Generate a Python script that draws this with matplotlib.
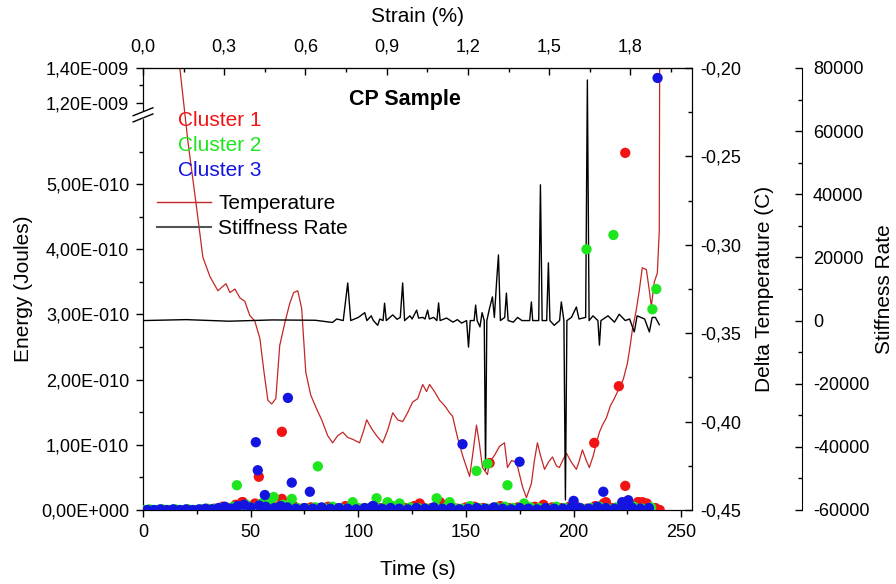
import numpy as np
import matplotlib
matplotlib.use("Agg")
import matplotlib.pyplot as plt
from matplotlib.ticker import FixedLocator, FuncFormatter, MultipleLocator
from matplotlib.lines import Line2D

plt.rcParams['font.family'] = ['Liberation Sans', 'DejaVu Sans']
plt.rcParams['axes.unicode_minus'] = False

# ---- data (energies in units of 1e-10 J) ----
temp_t = [13, 15.3, 17.2, 20.9, 25.0, 27.8, 31.1, 34.8, 36.6, 38.5,
          40.4, 42.7, 45.0, 47.3, 49.6, 51.9, 54.3, 56.1, 58.0, 59.8,
          61.7, 63.5, 65.9, 68.2, 70.0, 71.9, 73.7, 75.6, 77.9, 80.7,
          83.0, 85.8, 88.1, 90.4, 92.8, 95.1, 97.4, 100.6, 102.5, 103.9,
          106.2, 108.5, 111.3, 113.6, 116.0, 118.3, 120.6, 122.9, 125.2, 127.6,
          129.9, 131.7, 133.1, 135.4, 137.8, 140.1, 142.4, 143.8, 146.1, 148.4,
          150.3, 151.7, 153.1, 154.9, 156.3, 157.7, 160.0, 160.9, 163.3, 165.6,
          167.9, 169.3, 171.2, 173.5, 174.9, 176.3, 178.1, 180.4, 181.8, 183.2,
          184.6, 186.5, 188.3, 190.2, 192.0, 193.4, 195.3, 196.7, 199.0, 201.3,
          202.7, 204.1, 205.9, 207.3, 209.2, 210.6, 212.0, 213.4, 215.2, 217.1,
          218.9, 221.2, 223.1, 225.0, 226.3, 227.3, 229.1, 230.5, 231.9, 233.8,
          235.2, 236.1, 237.5, 238.9, 239.8, 240.0]
temp_c = [-0.170, -0.196, -0.201, -0.242, -0.280, -0.307, -0.318, -0.326, -0.324, -0.322,
          -0.327, -0.325, -0.330, -0.332, -0.340, -0.343, -0.353, -0.371, -0.388, -0.390,
          -0.387, -0.357, -0.344, -0.333, -0.327, -0.326, -0.336, -0.372, -0.385, -0.393,
          -0.399, -0.408, -0.412, -0.408, -0.406, -0.409, -0.410, -0.412, -0.405, -0.399,
          -0.404, -0.408, -0.412, -0.405, -0.395, -0.399, -0.400, -0.395, -0.389, -0.387,
          -0.379, -0.383, -0.379, -0.383, -0.388, -0.391, -0.395, -0.397, -0.409, -0.419,
          -0.426, -0.431, -0.419, -0.402, -0.413, -0.426, -0.430, -0.423, -0.419, -0.414,
          -0.412, -0.426, -0.422, -0.423, -0.430, -0.437, -0.443, -0.435, -0.422, -0.412,
          -0.419, -0.427, -0.423, -0.420, -0.425, -0.426, -0.421, -0.418, -0.423, -0.427,
          -0.422, -0.416, -0.422, -0.426, -0.419, -0.412, -0.406, -0.402, -0.398, -0.391,
          -0.387, -0.381, -0.376, -0.367, -0.357, -0.348, -0.337, -0.326, -0.313, -0.314,
          -0.326, -0.335, -0.321, -0.316, -0.292, -0.190]

stiff_t = [0, 20, 40, 60, 80, 88, 90, 93, 95.1, 96.5,
           100, 103, 104, 106, 107, 109, 110, 111.5, 112.2, 113,
           116, 118, 119.5, 120.6, 121.5, 124, 125, 127.1, 128, 130,
           131, 132.2, 133, 135, 136.5, 137.3, 138, 141, 144, 146,
           148, 150.3, 151.2, 152, 153.8, 154.5, 155.2, 156.5, 157.5, 158.5,
           159.1, 159.7, 161, 162.3, 163.2, 164.2, 165.1, 166, 168, 168.8,
           169.6, 172, 174, 176, 179.6, 180.4, 181, 183.8, 184.6, 185.4,
           187.5, 188.3, 189, 191, 193.5, 194.3, 195.5, 196.2, 196.9, 199,
           201.3, 202.5, 205.6, 206.4, 207.2, 209, 211.3, 212, 212.7, 216,
           219, 221.2, 224, 226, 228.2, 229.5, 233, 235.2, 236.5, 238,
           239.8]
stiff_v = [0, 300, -200, 200, 100, -600, 500, 0, 11900, 0,
           1000, 2500, 0, 1500, 0, -1500, 500, 0, 5500, 0,
           1800, 400, 1000, 11900, 0, 1500, 500, 3300, 800, 1000,
           500, 3300, 500, 1000, 0, 5600, 0, 800, -500, 300,
           -800, 0, -8400, 0, 0, 4900, 0, -2000, 2500, 0,
           -47300, 0, 4000, 7500, 1000, 11900, 20800, 0, 1000, 8700,
           0, -500, 1000, 0, 0, 5900, 0, 0, 43000, 0,
           0, 18300, 0, -1500, 0, 5900, 0, -56800, 0, 1000,
           4300, 500, 1000, 76200, 0, 1500, 0, -7800, 0, 1500,
           -500, 2000, 0, 500, -3600, 1500, 500, -3600, 1000, 1000,
           -1300]

c1_t = [33, 37, 40, 43, 46, 49, 52, 56, 59, 62,
        66, 70, 74, 78, 82, 86, 90, 94, 98, 102,
        106, 110, 114, 118, 122, 126, 130, 134, 138, 142,
        146, 150, 154, 158, 162, 166, 170, 174, 178, 182,
        186, 190, 194, 198, 202, 206, 210, 214, 218, 222,
        226, 230, 234, 238,
        46.4, 53.8, 64.5, 64.5, 128.5, 161, 209.6, 215, 221, 224,
        224, 230, 232, 240]
c1_e = [0.02, 0.05, 0.03, 0.08, 0.12, 0.06, 0.10, 0.04, 0.08, 0.05,
        0.03, 0.06, 0.02, 0.04, 0.03, 0.05, 0.02, 0.06, 0.03, 0.02,
        0.04, 0.03, 0.05, 0.02, 0.03, 0.06, 0.04, 0.03, 0.12, 0.03,
        0.02, 0.04, 0.05, 0.03, 0.02, 0.06, 0.03, 0.04, 0.02, 0.05,
        0.08, 0.04, 0.03, 0.05, 0.04, 0.02, 0.06, 0.10, 0.03, 0.05,
        0.04, 0.12, 0.10, 0.03,
        0.12, 0.51, 1.20, 0.17, 0.10, 0.72, 1.03, 0.12, 1.90, 5.48,
        0.37, 0.12, 0.12, 0.00]

c2_t = [1, 3, 6, 9, 12, 15, 18, 21, 24, 27,
        30, 33, 36, 39, 42, 45, 48, 51, 55, 58,
        61, 65, 68, 72, 76, 80, 84, 88, 92, 96,
        100, 104, 108, 112, 116, 120, 124, 128, 132, 136,
        140, 144, 148, 152, 156, 160, 164, 168, 172, 176,
        180, 184, 188, 192, 196, 200, 204, 208, 212, 216,
        220, 224, 228, 232, 236,
        43.6, 59, 60.7, 69.1, 81.2, 97.4, 108.5, 113.6, 119.2, 136.4,
        142.4, 154.9, 160, 169.3, 177, 206, 218.5, 236.6, 238.4]
c2_e = [0.00, 0.01, 0.00, 0.01, 0.00, 0.01, 0.00, 0.01, 0.00, 0.01,
        0.02, 0.01, 0.03, 0.02, 0.05, 0.04, 0.08, 0.03, 0.10, 0.06,
        0.04, 0.08, 0.05, 0.03, 0.02, 0.04, 0.03, 0.05, 0.02, 0.04,
        0.03, 0.02, 0.05, 0.03, 0.06, 0.02, 0.04, 0.03, 0.02, 0.05,
        0.03, 0.04, 0.02, 0.06, 0.03, 0.02, 0.04, 0.05, 0.03, 0.02,
        0.04, 0.03, 0.02, 0.05, 0.03, 0.04, 0.02, 0.03, 0.05, 0.02,
        0.04, 0.03, 0.05, 0.02, 0.04,
        0.38, 0.17, 0.20, 0.17, 0.67, 0.12, 0.18, 0.12, 0.10, 0.18,
        0.12, 0.60, 0.71, 0.38, 0.10, 4.00, 4.22, 3.08, 3.39]

c3_t = [2, 5, 8, 11, 14, 17, 20, 23, 26, 29,
        32, 35, 38, 41, 44, 47, 50, 54, 57, 61,
        64, 67, 71, 75, 79, 83, 87, 91, 95, 99,
        103, 107, 111, 115, 119, 123, 127, 131, 135, 139,
        143, 147, 151, 155, 159, 163, 167, 171, 175, 179,
        183, 187, 191, 195, 199, 203, 207, 211, 215, 219,
        223, 227, 231, 235,
        52.4, 53.3, 56.6, 67.3, 69.1, 77.5, 106.7, 148.4, 174.9, 200,
        213.8, 222.6, 225.4, 239]
c3_e = [0.00, 0.00, 0.01, 0.00, 0.01, 0.00, 0.01, 0.00, 0.01, 0.02,
        0.01, 0.03, 0.05, 0.02, 0.06, 0.08, 0.04, 0.07, 0.05, 0.03,
        0.06, 0.04, 0.02, 0.03, 0.02, 0.04, 0.02, 0.03, 0.02, 0.01,
        0.03, 0.06, 0.02, 0.03, 0.02, 0.01, 0.03, 0.02, 0.04, 0.02,
        0.03, 0.01, 0.02, 0.03, 0.02, 0.04, 0.02, 0.01, 0.03, 0.02,
        0.01, 0.03, 0.02, 0.02, 0.04, 0.03, 0.02, 0.05, 0.03, 0.02,
        0.06, 0.04, 0.02, 0.03,
        1.04, 0.61, 0.23, 1.72, 0.42, 0.28, 0.06, 1.01, 0.74, 0.14,
        0.28, 0.12, 0.15, 13.43]

energy_major = [0, 1e-10, 2e-10, 3e-10, 4e-10, 5e-10, 1.2e-9, 1.4e-9]
energy_minor = [0.5e-10, 1.5e-10, 2.5e-10, 3.5e-10, 4.5e-10, 5.5e-10, 1.3e-9]

RED, GREEN, BLUE = '#F01414', '#1EE61E', '#1414E1'
TEMP_COLOR = '#C42626'

# broken energy axis: linear low part, compressed high part
LO, HI = 6.06e-10, 1.131e-9
A, B = 65.2e10, 17.5e10


def fwd(v):
    v = np.asarray(v, float)
    return np.where(v <= LO, v * A, np.where(v >= HI, LO * A + (v - HI) * B, LO * A))


def inv(y):
    y = np.asarray(y, float)
    return np.where(y <= LO * A, y / A, HI + (y - LO * A) / B)


def energy_fmt(v, pos):
    if v == 0:
        return "0,00E+000"
    exp = int(np.floor(np.log10(abs(v)) + 1e-9))
    man = v / 10 ** exp
    return f"{man:.2f}".replace('.', ',') + f"E{exp:+04d}"


def comma_fmt(decimals):
    return FuncFormatter(lambda v, p: f"{v:.{decimals}f}".replace('.', ','))


TICK_FS = 13
LABEL_FS = 15

fig = plt.figure(figsize=(8.96, 5.84), dpi=100)
ax = fig.add_axes([143 / 896, 74 / 584, 549 / 896, 442 / 584])
axT = ax.twinx()
axS = ax.twinx()
ax.set_zorder(axS.get_zorder() + 2)
ax.patch.set_visible(False)

# temperature + stiffness lines
axT.plot(temp_t, temp_c, color=TEMP_COLOR, lw=0.9)
axT.set_ylim(-0.45, -0.20)
axS.plot(stiff_t, stiff_v, color='black', lw=1.0)
axS.set_ylim(-60000, 80000)

# clusters
for tt, ee, col in [(c1_t, c1_e, RED), (c2_t, c2_e, GREEN), (c3_t, c3_e, BLUE)]:
    ax.scatter(tt, np.array(ee) * 1e-10, s=55, color=col, edgecolors='none', zorder=3)

ax.set_xlim(0, 255)
ax.set_yscale('function', functions=(fwd, inv))
ax.set_ylim(0, 1.4e-9)
ax.yaxis.set_major_locator(FixedLocator(energy_major))
ax.yaxis.set_minor_locator(FixedLocator(energy_minor))
ax.yaxis.set_major_formatter(FuncFormatter(energy_fmt))
ax.xaxis.set_major_locator(MultipleLocator(50))
ax.xaxis.set_minor_locator(MultipleLocator(25))
ax.tick_params(axis='both', which='major', direction='out', length=5, width=1,
               labelsize=TICK_FS, pad=5)
ax.tick_params(axis='both', which='minor', direction='out', length=3, width=1)
ax.set_xlabel('Time (s)', fontsize=LABEL_FS, labelpad=14)
ax.set_ylabel('Energy (Joules)', fontsize=LABEL_FS, labelpad=6)

# top strain axis
K = 0.00795
top = ax.secondary_xaxis('top', functions=(lambda t: t * K, lambda s: s / K))
top.xaxis.set_major_locator(MultipleLocator(0.3))
top.xaxis.set_minor_locator(MultipleLocator(0.15))
top.xaxis.set_major_formatter(comma_fmt(1))
top.tick_params(which='major', direction='in', length=5, width=1, labelsize=TICK_FS, pad=9)
top.tick_params(which='minor', direction='in', length=3, width=1)
top.set_xlabel('Strain (%)', fontsize=LABEL_FS, labelpad=12)

# temperature axis
axT.yaxis.set_major_locator(MultipleLocator(0.05))
axT.yaxis.set_minor_locator(MultipleLocator(0.025))
axT.yaxis.set_major_formatter(comma_fmt(2))
axT.tick_params(which='major', direction='in', length=5, width=1, labelsize=TICK_FS, pad=6)
axT.tick_params(which='minor', direction='in', length=3, width=1)
axT.set_ylabel('Delta Temperature (C)', fontsize=LABEL_FS, labelpad=10)

# stiffness axis
axS.spines['right'].set_position(('axes', 1.2))
for s in ['top', 'bottom', 'left']:
    axS.spines[s].set_visible(False)
axS.yaxis.set_major_locator(MultipleLocator(20000))
axS.yaxis.set_minor_locator(MultipleLocator(10000))
axS.tick_params(which='major', direction='in', length=5, width=1, labelsize=TICK_FS, pad=8)
axS.tick_params(which='minor', direction='in', length=3, width=1)
axS.set_ylabel('Stiffness Rate', fontsize=LABEL_FS)
axS.yaxis.set_label_coords(1.333, 0.5)

# axis break marks on left spine
br_lo, br_hi = 0.887, 0.901
ax.add_patch(plt.Rectangle((-0.004, br_lo), 0.008, br_hi - br_lo, transform=ax.transAxes,
                           color='white', clip_on=False, zorder=5))
for yb in (br_lo, br_hi):
    ax.plot([-0.018, 0.018], [yb - 0.009, yb + 0.009], transform=ax.transAxes,
            color='black', lw=1, clip_on=False, zorder=6)

# title and legend
ax.text(0.477, 0.928, 'CP Sample', transform=ax.transAxes, ha='center', va='center',
        fontsize=15.5, fontweight='bold')
for i, (lab, col) in enumerate([('Cluster 1', RED), ('Cluster 2', GREEN), ('Cluster 3', BLUE)]):
    ax.text(0.064, 0.882 - i * 0.0565, lab, transform=ax.transAxes, ha='left', va='center',
            fontsize=15, color=col)
handles = [Line2D([], [], color=TEMP_COLOR, lw=1), Line2D([], [], color='#555555', lw=1.5)]
ax.legend(handles, ['Temperature', 'Stiffness Rate'], loc='center left',
          bbox_to_anchor=(0.0255, 0.665), frameon=False, fontsize=15, borderpad=0,
          borderaxespad=0, handlelength=2.6, handletextpad=0.35, labelspacing=0.3)

fig.savefig('out.png', dpi=100)
